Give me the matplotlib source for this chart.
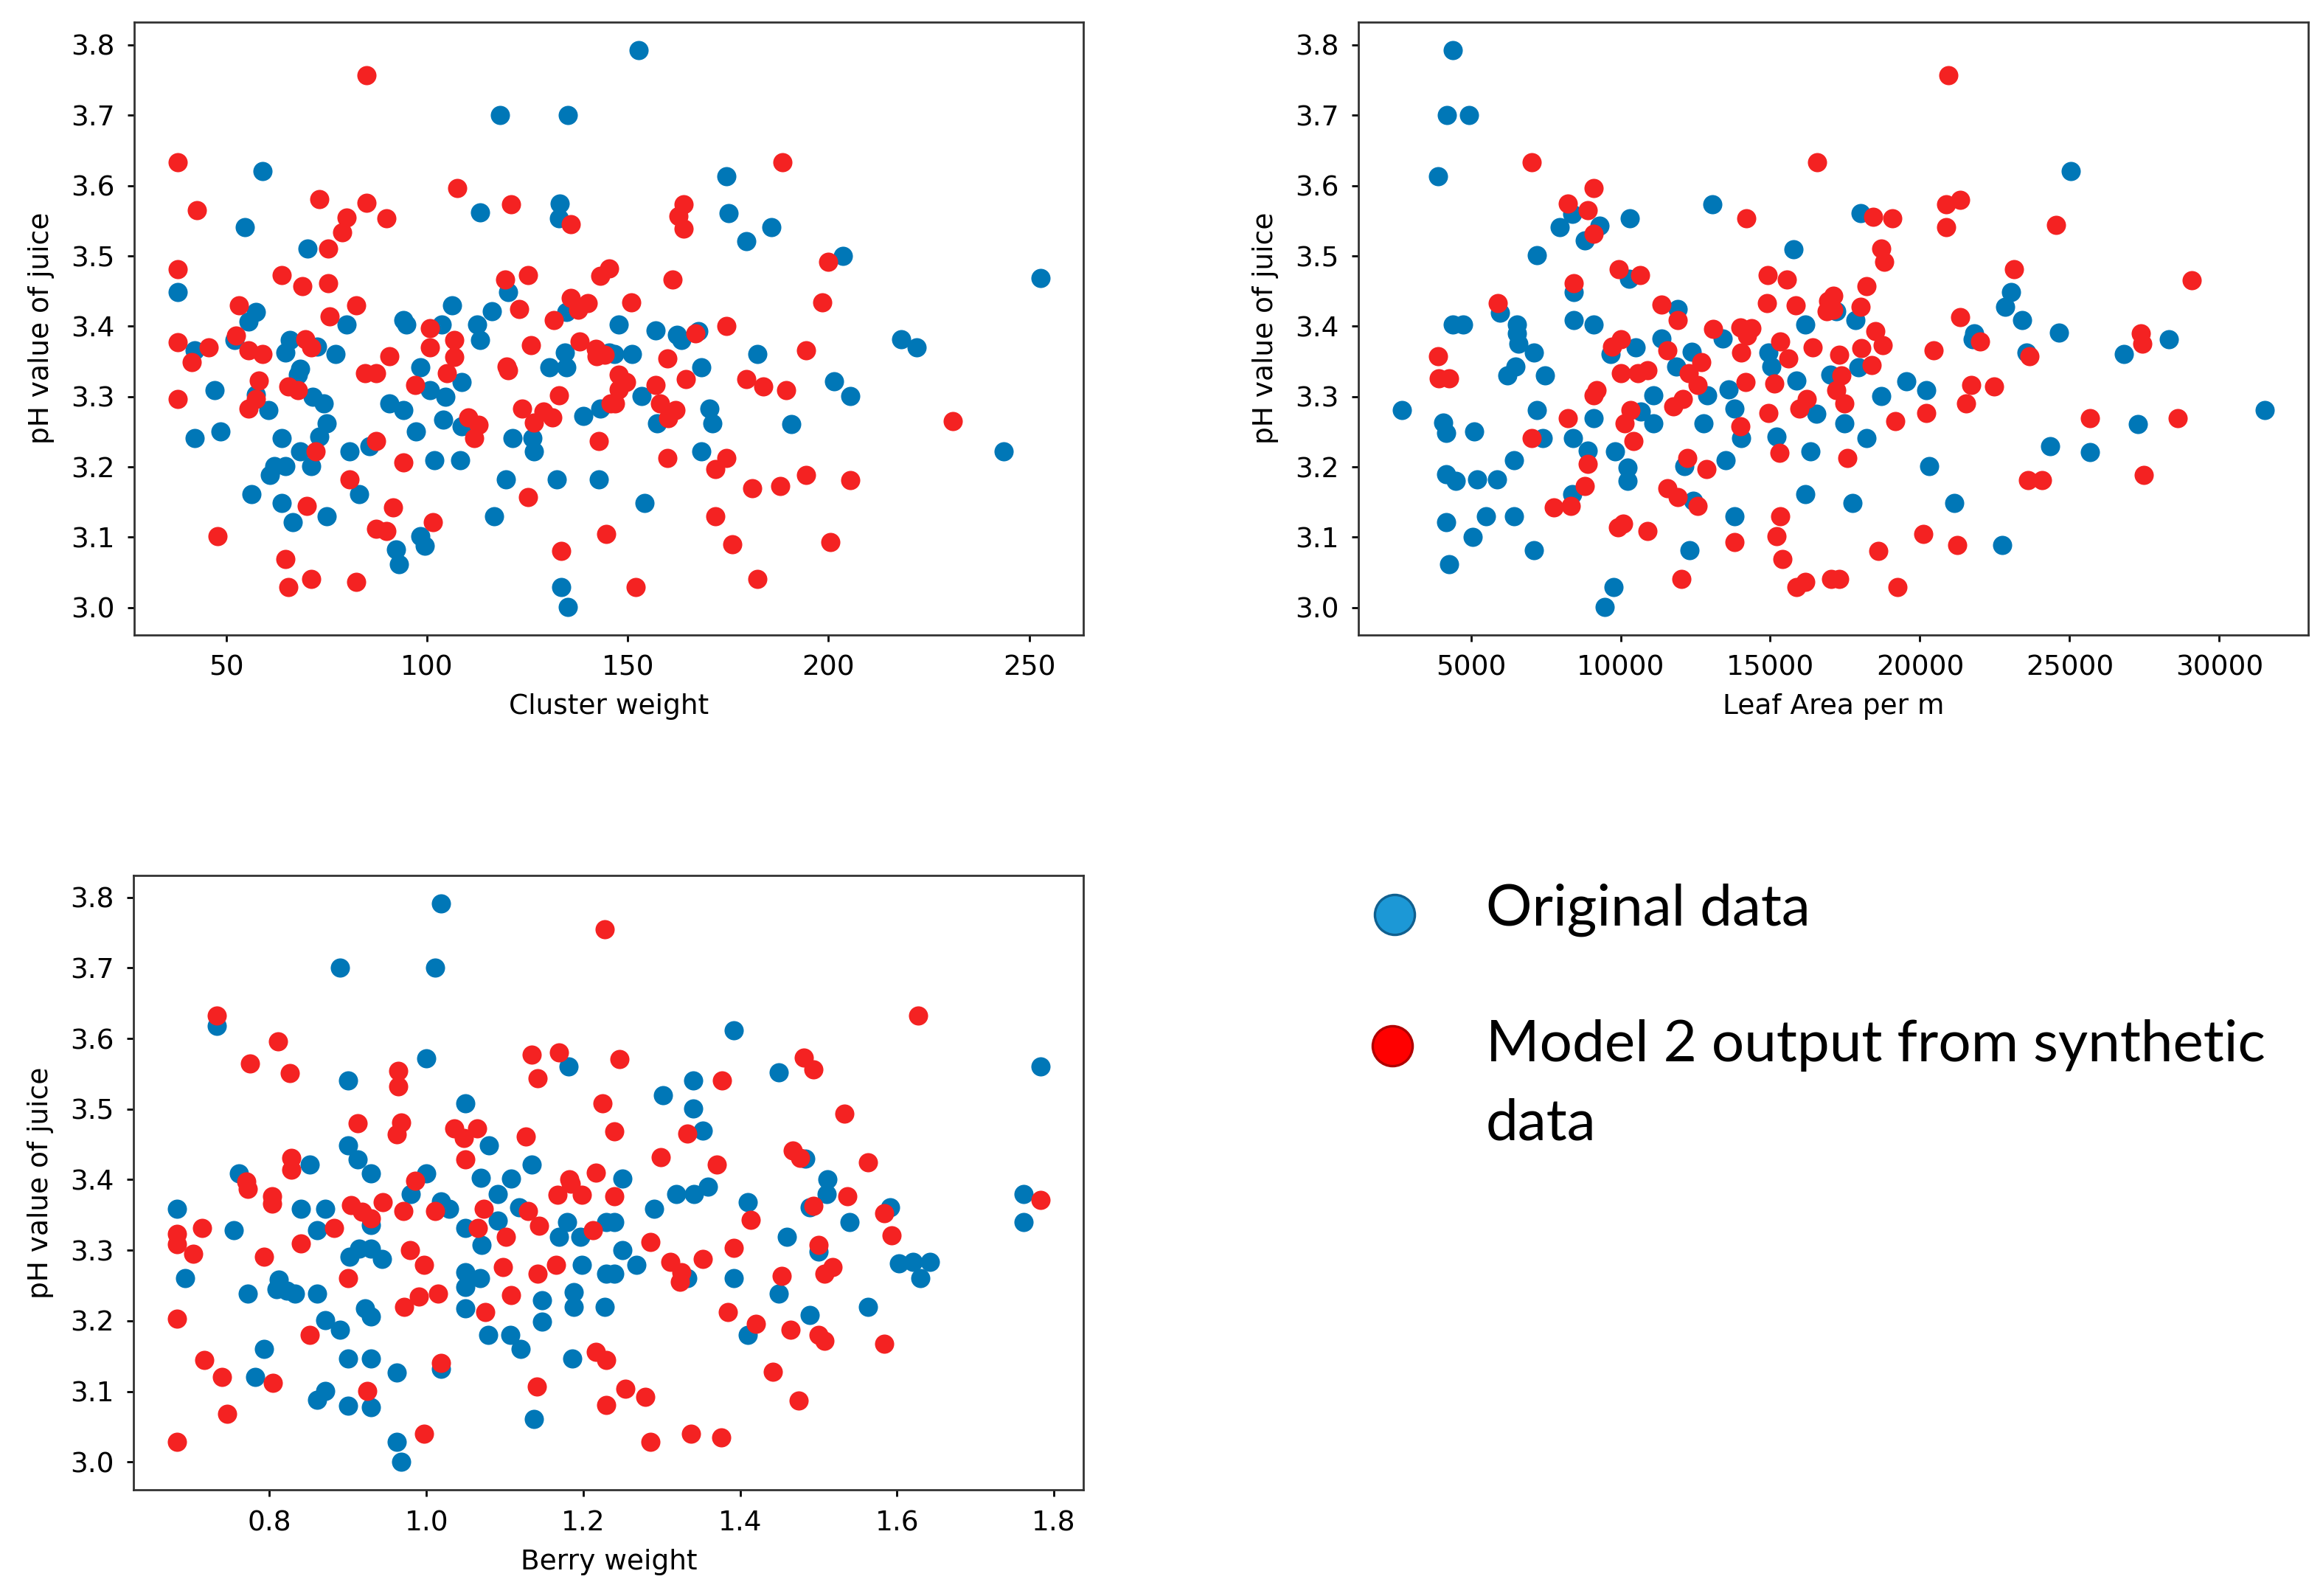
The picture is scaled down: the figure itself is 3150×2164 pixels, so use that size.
import matplotlib.pyplot as plt
from matplotlib.lines import Line2D

# cluster weight panel
cw_orig_x = [152.7, 118.2, 135.1, 59.0, 174.6, 133.0, 113.3, 175.2, 132.8, 54.7, 185.8, 179.5, 70.3, 203.6, 252.8, 37.9, 120.2, 55.5, 57.4, 80.0,
             94.1, 94.9, 103.7, 106.2, 112.5, 116.2, 134.7, 147.7, 156.9, 162.2, 167.6, 163.4, 52.1, 42.1, 65.8, 64.7, 72.7, 77.2, 113.3, 134.3,
             130.5, 134.7, 145.4, 146.6, 151.1, 182.3, 218.1, 221.9, 168.4, 68.5, 67.8, 98.4, 47.1, 57.4, 60.5, 100.7, 108.7, 104.5, 71.6, 74.3,
             75.0, 73.1, 90.7, 94.1, 104.1, 108.7, 138.9, 143.1, 153.4, 201.3, 205.5, 157.3, 170.3, 171.0, 190.7, 42.1, 48.6, 63.9, 68.5, 71.2,
             62.0, 60.9, 64.7, 80.8, 85.7, 97.2, 101.8, 108.3, 121.3, 126.3, 126.7, 168.4, 243.6, 83.1, 56.3, 63.9, 75.0, 66.6, 119.6, 132.4,
             142.7, 116.7, 154.2, 98.4, 99.5, 92.2, 93.0, 133.5, 135.1]
cw_orig_ph = [3.793, 3.70, 3.70, 3.621, 3.613, 3.574, 3.562, 3.561, 3.553, 3.541, 3.541, 3.521, 3.51, 3.50, 3.469, 3.449, 3.449, 3.407, 3.42, 3.402,
              3.409, 3.402, 3.402, 3.43, 3.402, 3.421, 3.42, 3.402, 3.394, 3.388, 3.393, 3.38, 3.38, 3.366, 3.38, 3.363, 3.371, 3.361, 3.38, 3.363,
              3.342, 3.342, 3.363, 3.361, 3.361, 3.361, 3.382, 3.37, 3.342, 3.34, 3.331, 3.342, 3.309, 3.303, 3.281, 3.309, 3.321, 3.30, 3.30, 3.29,
              3.262, 3.243, 3.29, 3.281, 3.267, 3.258, 3.272, 3.283, 3.301, 3.322, 3.301, 3.262, 3.283, 3.262, 3.261, 3.241, 3.25, 3.241, 3.222, 3.201,
              3.201, 3.189, 3.201, 3.222, 3.229, 3.25, 3.21, 3.21, 3.241, 3.241, 3.222, 3.222, 3.222, 3.161, 3.161, 3.149, 3.13, 3.121, 3.182, 3.182,
              3.182, 3.13, 3.149, 3.102, 3.088, 3.083, 3.062, 3.029, 3.001]
cw_syn_x = [85.0, 37.9, 188.6, 107.5, 73.1, 85.0, 120.9, 164.0, 162.6, 164.0, 42.7, 79.9, 89.9, 135.8, 78.8, 75.3, 199.9, 37.9, 63.9, 125.1,
            119.5, 143.1, 145.4, 161.1, 69.0, 75.3, 123.0, 53.2, 150.8, 198.4, 75.8, 82.3, 100.7, 131.5, 135.8, 137.7, 140.0, 166.8, 174.6, 37.9,
            45.6, 41.4, 52.4, 55.5, 59.0, 69.7, 71.2, 100.7, 106.8, 106.8, 125.9, 138.1, 142.0, 142.3, 144.3, 194.4, 90.7, 84.6, 87.3, 104.9,
            119.8, 120.2, 159.9, 58.2, 37.9, 65.5, 67.8, 57.4, 55.5, 97.0, 132.8, 147.7, 149.6, 147.7, 146.9, 156.9, 164.5, 179.5, 183.7, 189.4,
            110.2, 112.9, 111.7, 123.6, 126.7, 131.3, 129.0, 145.8, 158.0, 161.9, 160.0, 231.0, 72.3, 87.3, 94.1, 142.7, 159.9, 174.5, 171.8, 80.8,
            70.0, 125.1, 91.5, 87.3, 89.9, 101.4, 47.9, 144.6, 181.0, 187.9, 194.4, 205.5, 171.8, 133.5, 64.7, 176.0, 200.5, 65.5, 71.2, 82.3,
            151.9, 182.3]
cw_syn_ph = [3.757, 3.633, 3.633, 3.597, 3.581, 3.576, 3.573, 3.573, 3.557, 3.539, 3.565, 3.555, 3.553, 3.545, 3.534, 3.51, 3.492, 3.481, 3.473, 3.473,
             3.466, 3.472, 3.482, 3.466, 3.457, 3.461, 3.425, 3.43, 3.434, 3.434, 3.414, 3.43, 3.397, 3.409, 3.44, 3.423, 3.433, 3.39, 3.40, 3.377,
             3.37, 3.349, 3.387, 3.366, 3.361, 3.382, 3.37, 3.37, 3.38, 3.356, 3.373, 3.378, 3.368, 3.357, 3.36, 3.366, 3.357, 3.333, 3.333, 3.333,
             3.343, 3.337, 3.354, 3.323, 3.297, 3.314, 3.309, 3.297, 3.283, 3.317, 3.302, 3.331, 3.321, 3.31, 3.29, 3.317, 3.325, 3.325, 3.314, 3.309,
             3.27, 3.26, 3.241, 3.283, 3.263, 3.27, 3.279, 3.29, 3.29, 3.281, 3.269, 3.265, 3.222, 3.237, 3.206, 3.237, 3.213, 3.213, 3.197, 3.182,
             3.145, 3.157, 3.142, 3.112, 3.109, 3.121, 3.102, 3.105, 3.17, 3.173, 3.189, 3.181, 3.13, 3.081, 3.069, 3.09, 3.093, 3.029, 3.041, 3.037,
             3.029, 3.041]

# leaf area panel
la_orig_x = [4385, 4200, 4949, 3903, 25031, 13067, 10310, 7973, 8383, 9305, 8813, 15783, 7204, 10279, 18017, 8434, 5974, 11919, 17211, 17851,
             23047, 22841, 23409, 4385, 4744, 6538, 8434, 9100, 16173, 24649, 21808, 2694, 6538, 6589, 7101, 6486, 6230, 7480, 7204, 4078,
             4180, 5102, 9100, 7409, 8403, 8895, 6435, 4180, 4488, 5205, 5871, 8383, 4180, 5513, 6435, 5051, 7101, 4283, 9664, 10515,
             11099, 10689, 11099, 9818, 10228, 10228, 11355, 11868, 12380, 12893, 12770, 13405, 13610, 13815, 14020, 14943, 15045, 15865, 16531, 15199,
             16347, 12124, 13508, 12431, 16173, 13815, 12298, 9766, 9459, 17934, 17004, 21756, 23564, 26818, 28316, 19535, 20207, 18709, 17469, 18223,
             27283, 31518, 24339, 25682, 20310, 17748, 21157, 22758]
la_orig_ph = [3.793, 3.70, 3.70, 3.613, 3.621, 3.573, 3.553, 3.541, 3.56, 3.543, 3.522, 3.509, 3.501, 3.468, 3.561, 3.449, 3.419, 3.424, 3.421, 3.409,
              3.449, 3.428, 3.409, 3.402, 3.402, 3.402, 3.409, 3.402, 3.402, 3.391, 3.39, 3.281, 3.39, 3.375, 3.363, 3.343, 3.33, 3.33, 3.281, 3.263,
              3.248, 3.25, 3.269, 3.241, 3.241, 3.223, 3.21, 3.19, 3.18, 3.182, 3.182, 3.161, 3.121, 3.13, 3.13, 3.101, 3.082, 3.062, 3.361, 3.37,
              3.302, 3.279, 3.262, 3.222, 3.199, 3.18, 3.383, 3.343, 3.364, 3.302, 3.262, 3.383, 3.31, 3.283, 3.241, 3.363, 3.343, 3.323, 3.276, 3.243,
              3.222, 3.201, 3.21, 3.152, 3.161, 3.13, 3.082, 3.029, 3.001, 3.342, 3.331, 3.382, 3.363, 3.361, 3.382, 3.322, 3.309, 3.301, 3.262, 3.241,
              3.261, 3.281, 3.229, 3.221, 3.201, 3.149, 3.149, 3.089]
la_syn_x = [20950, 7030, 16562, 9100, 8229, 8895, 14194, 9100, 20878, 21343, 24545, 18430, 19070, 20878, 18709, 18812, 9940, 10658, 14922, 15558,
            8434, 23130, 29070, 18223, 5902, 11355, 11919, 14897, 15840, 16940, 16889, 17108, 17108, 18017, 13999, 14379, 21343, 18502, 27386, 3903,
            3924, 4283, 8229, 7030, 8895, 8813, 7768, 8331, 9715, 10023, 10023, 10586, 10894, 9203, 9100, 10330, 10125, 10433, 11560, 12688,
            12278, 12585, 11765, 12073, 13098, 14225, 14020, 14174, 14000, 15332, 15609, 15127, 14943, 16429, 16224, 15968, 15301, 12226, 12872, 11560,
            11919, 12585, 13815, 15332, 15199, 15404, 9920, 10074, 10894, 12021, 15865, 16173, 17044, 18760, 17314, 18037, 18399, 17366, 17211, 17469,
            20465, 22014, 23667, 27438, 21705, 22479, 21529, 20207, 19174, 25682, 28605, 17572, 23616, 24080, 27469, 20124, 18605, 21240, 17294, 19256]
la_syn_ph = [3.757, 3.633, 3.633, 3.597, 3.574, 3.565, 3.553, 3.532, 3.573, 3.58, 3.544, 3.556, 3.553, 3.541, 3.51, 3.492, 3.481, 3.473, 3.473, 3.466,
             3.461, 3.481, 3.465, 3.457, 3.433, 3.431, 3.409, 3.433, 3.43, 3.436, 3.421, 3.443, 3.423, 3.428, 3.398, 3.397, 3.413, 3.393, 3.39, 3.357,
             3.326, 3.326, 3.269, 3.241, 3.204, 3.173, 3.142, 3.144, 3.371, 3.382, 3.333, 3.333, 3.337, 3.309, 3.302, 3.281, 3.262, 3.237, 3.366, 3.349,
             3.333, 3.316, 3.286, 3.297, 3.396, 3.387, 3.363, 3.321, 3.258, 3.378, 3.354, 3.319, 3.277, 3.37, 3.297, 3.283, 3.22, 3.213, 3.197, 3.17,
             3.157, 3.145, 3.093, 3.13, 3.102, 3.069, 3.114, 3.119, 3.109, 3.041, 3.029, 3.037, 3.041, 3.373, 3.359, 3.369, 3.345, 3.33, 3.309, 3.29,
             3.366, 3.378, 3.357, 3.375, 3.317, 3.314, 3.29, 3.277, 3.265, 3.269, 3.269, 3.213, 3.181, 3.181, 3.189, 3.105, 3.081, 3.089, 3.041, 3.029]

# berry weight panel
bw_orig_x = [1.019, 0.890, 1.011, 0.733, 1.0, 0.900, 1.181, 1.050, 1.080, 0.900, 0.912, 0.929, 0.851, 0.761, 1.0, 1.069, 1.108, 1.134, 1.392, 1.449,
             1.783, 1.340, 1.302, 1.340, 1.352, 1.483, 1.250, 1.511, 1.359, 0.682, 0.754, 0.840, 0.871, 0.861, 0.692, 0.772, 0.812, 0.822, 0.832, 0.809,
             0.861, 0.929, 0.902, 0.914, 0.929, 0.943, 0.922, 0.929, 0.871, 0.890, 0.793, 0.782, 0.900, 0.929, 0.962, 0.871, 0.861, 0.900, 0.929, 0.962,
             0.968, 0.980, 1.019, 1.029, 1.019, 1.050, 1.070, 1.091, 1.118, 1.091, 1.050, 1.068, 1.050, 1.050, 1.079, 1.107, 1.120, 1.179, 1.169, 1.196,
             1.229, 1.198, 1.229, 1.147, 1.147, 1.188, 1.188, 1.227, 1.186, 1.137, 1.240, 1.290, 1.319, 1.341, 1.410, 1.510, 1.489, 1.540, 1.591, 1.761,
             1.761, 1.460, 1.250, 1.268, 1.240, 1.333, 1.392, 1.500, 1.449, 1.603, 1.620, 1.642, 1.630, 1.563, 1.489, 1.410]
bw_orig_ph = [3.791, 3.70, 3.70, 3.618, 3.572, 3.54, 3.56, 3.508, 3.448, 3.448, 3.429, 3.409, 3.421, 3.409, 3.409, 3.403, 3.401, 3.421, 3.612, 3.552,
              3.56, 3.54, 3.52, 3.501, 3.469, 3.43, 3.402, 3.40, 3.39, 3.359, 3.328, 3.359, 3.359, 3.328, 3.26, 3.239, 3.258, 3.243, 3.239, 3.245,
              3.239, 3.336, 3.291, 3.302, 3.302, 3.288, 3.218, 3.206, 3.201, 3.187, 3.16, 3.12, 3.147, 3.147, 3.127, 3.101, 3.088, 3.08, 3.078, 3.028,
              3.0, 3.38, 3.369, 3.359, 3.132, 3.331, 3.307, 3.38, 3.361, 3.342, 3.269, 3.26, 3.248, 3.218, 3.18, 3.18, 3.16, 3.34, 3.319, 3.319,
              3.34, 3.279, 3.267, 3.229, 3.199, 3.241, 3.22, 3.22, 3.147, 3.061, 3.34, 3.359, 3.38, 3.38, 3.368, 3.38, 3.361, 3.34, 3.361, 3.38,
              3.34, 3.319, 3.3, 3.279, 3.267, 3.26, 3.26, 3.298, 3.239, 3.281, 3.283, 3.283, 3.26, 3.22, 3.208, 3.18]
bw_syn_x = [1.227, 0.733, 0.811, 0.775, 0.826, 0.964, 0.964, 1.134, 1.142, 1.169, 1.225, 0.912, 0.968, 0.962, 1.036, 1.065, 1.048, 1.050, 1.127, 1.240,
            0.828, 0.828, 0.770, 0.986, 1.182, 1.216, 1.627, 1.246, 1.481, 1.493, 1.377, 1.533, 1.333, 1.299, 1.370, 1.467, 1.477, 1.563, 0.682, 0.682,
            0.714, 0.703, 0.772, 0.803, 0.803, 0.882, 0.840, 0.793, 0.682, 0.904, 0.918, 0.929, 0.944, 0.900, 0.851, 0.717, 0.739, 0.804, 0.746, 0.682,
            0.925, 0.997, 0.971, 1.011, 0.979, 0.997, 0.972, 0.990, 1.015, 1.019, 1.066, 1.073, 1.101, 1.098, 1.108, 1.075, 1.130, 1.144, 1.167, 1.184,
            1.198, 1.212, 1.142, 1.165, 1.216, 1.229, 1.141, 1.229, 1.240, 1.414, 1.493, 1.537, 1.584, 1.593, 1.783, 1.286, 1.311, 1.325, 1.323, 1.352,
            1.392, 1.500, 1.508, 1.518, 1.453, 1.384, 1.420, 1.464, 1.500, 1.508, 1.584, 1.442, 1.254, 1.279, 1.475, 1.286, 1.337, 1.376]
bw_syn_ph = [3.755, 3.632, 3.596, 3.565, 3.551, 3.554, 3.532, 3.577, 3.544, 3.58, 3.508, 3.48, 3.481, 3.464, 3.473, 3.473, 3.459, 3.429, 3.461, 3.468,
             3.431, 3.414, 3.397, 3.398, 3.40, 3.41, 3.632, 3.571, 3.573, 3.556, 3.54, 3.493, 3.465, 3.432, 3.421, 3.441, 3.431, 3.425, 3.323, 3.309,
             3.331, 3.295, 3.387, 3.376, 3.366, 3.331, 3.31, 3.291, 3.203, 3.364, 3.354, 3.345, 3.368, 3.26, 3.18, 3.144, 3.12, 3.112, 3.068, 3.028,
             3.101, 3.04, 3.355, 3.355, 3.3, 3.279, 3.22, 3.234, 3.239, 3.14, 3.331, 3.359, 3.319, 3.276, 3.236, 3.212, 3.355, 3.335, 3.378, 3.394,
             3.378, 3.328, 3.267, 3.279, 3.156, 3.144, 3.107, 3.081, 3.376, 3.343, 3.363, 3.376, 3.352, 3.321, 3.371, 3.312, 3.283, 3.269, 3.255, 3.288,
             3.303, 3.307, 3.267, 3.276, 3.264, 3.212, 3.196, 3.187, 3.18, 3.172, 3.167, 3.128, 3.104, 3.092, 3.087, 3.028, 3.04, 3.035]

legend_labels = ['Original data', 'Model 2 output from synthetic\ndata']

blue = '#0077b7'
red = '#f42222'

plt.rcParams['font.size'] = 13.5
plt.rcParams['axes.linewidth'] = 1.0
plt.rcParams['xtick.major.size'] = 3.2
plt.rcParams['ytick.major.size'] = 3.2
plt.rcParams['xtick.major.width'] = 1.0
plt.rcParams['ytick.major.width'] = 1.0
plt.rcParams['xtick.major.pad'] = 6.5
plt.rcParams['ytick.major.pad'] = 6.5

fig = plt.figure(figsize=(15.75, 10.82), dpi=200)
ax1 = fig.add_axes([0.0579, 0.6023, 0.4086, 0.3839])
ax2 = fig.add_axes([0.5849, 0.6023, 0.4086, 0.3839])
ax3 = fig.add_axes([0.0576, 0.0665, 0.4089, 0.3848])

panels = [
    (ax1, cw_orig_x, cw_orig_ph, cw_syn_x, cw_syn_ph, 'Cluster weight'),
    (ax2, la_orig_x, la_orig_ph, la_syn_x, la_syn_ph, 'Leaf Area per m'),
    (ax3, bw_orig_x, bw_orig_ph, bw_syn_x, bw_syn_ph, 'Berry weight'),
]
for ax, ox, oy, sx, sy, xlabel in panels:
    ax.scatter(ox, oy, s=88, color=blue, linewidths=0)
    ax.scatter(sx, sy, s=88, color=red, linewidths=0)
    ax.set_xlabel(xlabel, labelpad=6)
    ax.set_ylabel('pH value of juice', labelpad=8)
    ax.set_yticks([3.0, 3.1, 3.2, 3.3, 3.4, 3.5, 3.6, 3.7, 3.8])
    for sp in ax.spines.values():
        sp.set_color('#333333')

ax1.set_xticks([50, 100, 150, 200, 250])
ax2.set_xticks([5000, 10000, 15000, 20000, 25000, 30000])
ax3.set_xticks([0.8, 1.0, 1.2, 1.4, 1.6, 1.8])

# hand-made legend in the empty corner
fig.add_artist(Line2D([0.6003], [1 - 1240 / 2164], marker='o', markersize=19.5, color='#1c98d6',
                      markeredgecolor='#10608f', markeredgewidth=1.2, transform=fig.transFigure))
fig.add_artist(Line2D([0.5994], [1 - 1418 / 2164], marker='o', markersize=19.5, color='#ff0000',
                      markeredgecolor='#b00000', markeredgewidth=1.2, transform=fig.transFigure))
fig.text(0.6397, 1 - 1234 / 2164, legend_labels[0], fontsize=28.2, family='Lato', va='center', ha='left')
fig.text(0.6397, 1 - 1382 / 2164, legend_labels[1], fontsize=28.2, family='Lato', va='top', ha='left',
         linespacing=1.62)

fig.savefig('out.png', dpi=200)
